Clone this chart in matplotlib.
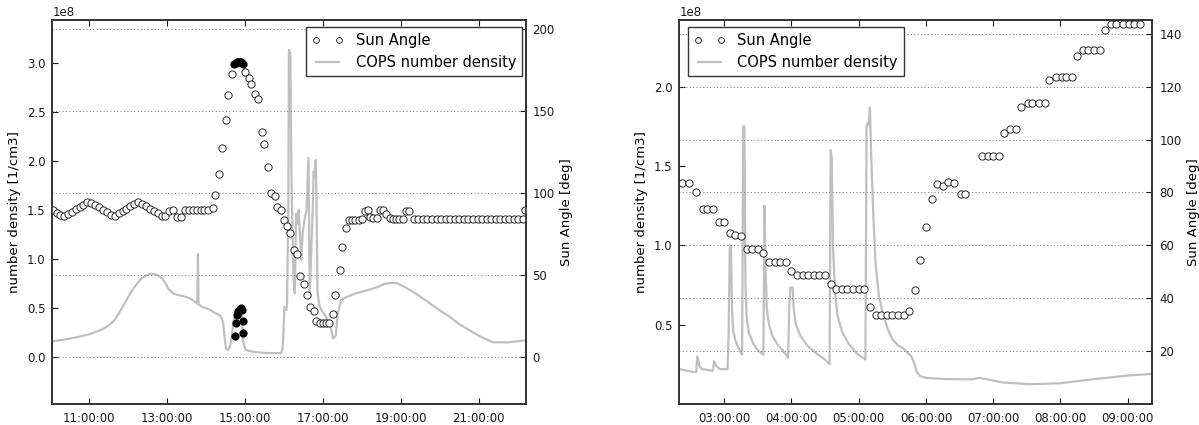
import datetime as dt
import numpy as np
import matplotlib
matplotlib.use("Agg")
import matplotlib.pyplot as plt
import matplotlib.dates as mdates
from matplotlib.ticker import FixedLocator

# --- left panel: sun angle (open circles) ---
left_sun_t = ["10:05", "10:11", "10:16", "10:22", "10:28", "10:34", "10:40", "10:46", "10:52", "10:58",
              "11:04", "11:10", "11:16", "11:22", "11:28", "11:34", "11:40", "11:46", "11:52", "11:58",
              "12:04", "12:10", "12:16", "12:22", "12:28", "12:34", "12:40", "12:46", "12:52", "12:58",
              "13:04", "13:10", "13:16", "13:22", "13:28", "13:34", "13:40", "13:46", "13:52", "13:58",
              "14:04", "14:11", "14:15", "14:20", "14:25", "14:31", "14:35", "14:40",
              "15:00", "15:06", "15:10", "15:16", "15:20", "15:26", "15:30", "15:36", "15:40", "15:46",
              "15:50", "15:55", "16:01", "16:05", "16:10", "16:15", "16:20", "16:25", "16:31", "16:35",
              "16:41", "16:46", "16:50", "16:55", "17:00", "17:05", "17:10", "17:16", "17:19", "17:26",
              "17:30", "17:36", "17:40", "17:45", "17:50", "17:55", "18:00", "18:05", "18:09", "18:13",
              "18:18", "18:23", "18:28", "18:33", "18:38", "18:43", "18:48", "18:53", "18:58", "19:03",
              "19:08", "19:13", "19:20", "19:27", "19:34", "19:41", "19:48", "19:55", "20:02", "20:09",
              "20:16", "20:23", "20:30", "20:37", "20:44", "20:51", "20:58", "21:05", "21:12", "21:19",
              "21:26", "21:33", "21:40", "21:47", "21:54", "22:01", "22:08", "22:11"]
left_sun_deg = [89.7, 88.0, 86.8, 86.0, 87.4, 88.8, 90.2, 91.6, 93.0, 94.6,
                94.0, 92.7, 91.3, 89.8, 88.3, 86.8, 86.2, 87.6, 89.0, 90.4,
                91.9, 93.4, 94.8, 93.6, 92.1, 90.6, 89.1, 87.6, 86.2, 86.0,
                89.0, 89.5, 85.4, 85.4, 90.0, 90.0, 90.0, 90.0, 90.0, 90.0,
                90.0, 91.0, 98.8, 111.8, 127.5, 144.4, 159.9, 172.5,
                173.9, 170.3, 166.6, 160.5, 157.2, 137.1, 130.1, 115.9, 100.2, 98.2,
                91.4, 89.8, 83.7, 79.8, 75.4, 65.6, 63.1, 49.7, 44.8, 37.9,
                30.5, 28.3, 22.2, 21.0, 21.0, 21.0, 21.0, 26.5, 38.1, 53.0,
                67.2, 78.6, 83.9, 83.9, 83.9, 83.9, 84.5, 89.4, 89.8, 85.5,
                85.0, 85.0, 89.5, 89.8, 87.0, 85.0, 84.5, 84.0, 84.0, 84.0,
                89.2, 89.2, 84.0, 84.0, 84.0, 84.0, 84.0, 84.0, 84.0, 84.0,
                84.0, 84.0, 84.0, 84.0, 84.0, 84.0, 84.0, 84.0, 84.0, 84.0,
                84.0, 84.0, 84.0, 84.0, 84.0, 84.0, 84.0, 89.5]

# densely overlapping samples that render as solid black dots
left_dense_t = ["14:44", "14:46", "14:48", "14:50", "14:52", "14:54", "14:56", "14:58",
                "14:45", "14:46", "14:48", "14:50", "14:52", "14:54", "14:56", "14:58", "14:58"]
left_dense_deg = [178.8, 179.6, 180.0, 180.2, 180.2, 180.0, 179.6, 178.8,
                  12.6, 20.8, 25.9, 27.9, 29.3, 29.7, 28.5, 21.8, 14.7]

# --- left panel: COPS number density (1e8 /cm3) ---
left_cops_t = ["10:04", "10:20", "10:41", "11:00", "11:17", "11:26", "11:34", "11:40", "11:46", "11:52",
               "11:58", "12:04", "12:10", "12:16", "12:21", "12:28", "12:36", "12:42", "12:48", "12:53",
               "12:57", "13:03", "13:11", "13:18", "13:26", "13:35", "13:44", "13:47", "13:48", "13:49",
               "13:55", "14:04", "14:14", "14:22", "14:25", "14:27", "14:29", "14:31", "14:34", "14:37",
               "14:39", "14:41", "14:43", "14:47", "14:55", "14:57", "15:00", "15:02", "15:08", "15:13",
               "15:33", "15:56", "15:58", "15:59", "16:01", "16:04", "16:05", "16:07", "16:08", "16:10",
               "16:12", "16:15", "16:17", "16:19", "16:22", "16:23", "16:25", "16:27", "16:29", "16:32",
               "16:35", "16:38", "16:40", "16:44", "16:46", "16:47", "16:49", "16:50", "16:52", "16:55",
               "16:58", "17:05", "17:10", "17:13", "17:16", "17:18", "17:20", "17:23", "17:28", "17:36",
               "17:51", "18:08", "18:23", "18:33", "18:38", "18:47", "18:55", "19:07", "19:20", "19:31",
               "19:45", "20:00", "20:15", "20:29", "20:45", "20:59", "21:10", "21:22", "21:46", "22:12"]
left_cops = [0.16, 0.175, 0.20, 0.23, 0.27, 0.30, 0.34, 0.38, 0.44, 0.51,
             0.58, 0.65, 0.71, 0.76, 0.80, 0.83, 0.85, 0.845, 0.826, 0.80,
             0.765, 0.69, 0.645, 0.63, 0.62, 0.60, 0.56, 0.543, 1.05, 0.535,
             0.51, 0.49, 0.45, 0.425, 0.39, 0.34, 0.20, 0.09, 0.07, 0.10,
             0.17, 0.26, 0.38, 0.48, 0.48, 0.17, 0.10, 0.07, 0.06, 0.054,
             0.04, 0.04, 0.08, 0.17, 0.51, 0.48, 0.53, 1.50, 3.13, 3.10,
             1.74, 0.80, 0.65, 1.46, 1.36, 1.50, 1.23, 0.99, 1.26, 1.40,
             1.50, 2.03, 0.65, 1.40, 1.89, 1.84, 2.01, 1.74, 0.65, 0.52,
             0.48, 0.41, 0.33, 0.275, 0.19, 0.20, 0.22, 0.445, 0.58, 0.61,
             0.65, 0.68, 0.71, 0.74, 0.75, 0.755, 0.75, 0.71, 0.66, 0.61,
             0.545, 0.476, 0.41, 0.34, 0.275, 0.22, 0.185, 0.15, 0.15, 0.17]

# --- right panel: sun angle ---
right_sun_t = ["02:22", "02:29", "02:35", "02:41", "02:45", "02:50", "02:55", "03:00", "03:05", "03:10",
               "03:15", "03:20", "03:25", "03:30", "03:35", "03:40", "03:45", "03:50", "03:55", "04:00",
               "04:05", "04:10", "04:15", "04:20", "04:25", "04:30", "04:35", "04:40", "04:45", "04:50",
               "04:55", "05:00", "05:05", "05:10", "05:15", "05:20", "05:25", "05:30", "05:35", "05:40",
               "05:45", "05:50", "05:55", "06:00", "06:05", "06:10", "06:15", "06:20", "06:25", "06:31",
               "06:35", "06:50", "06:55", "07:00", "07:05", "07:10", "07:15", "07:20", "07:25", "07:31",
               "07:35", "07:41", "07:46", "07:50", "07:56", "08:01", "08:05", "08:10", "08:15", "08:20",
               "08:25", "08:30", "08:35", "08:40", "08:45", "08:50", "08:56", "09:01", "09:06", "09:11"]
right_sun_deg = [83.6, 83.6, 80.0, 73.9, 73.9, 73.9, 68.75, 68.75, 64.6, 64.0,
                 63.7, 58.6, 58.6, 58.6, 57.1, 53.6, 53.6, 53.6, 53.6, 50.2,
                 48.6, 48.6, 48.6, 48.6, 48.6, 48.6, 45.3, 43.6, 43.6, 43.6,
                 43.6, 43.6, 43.6, 36.7, 33.6, 33.6, 33.6, 33.6, 33.6, 33.6,
                 35.3, 43.0, 54.4, 66.9, 77.5, 83.3, 82.4, 84.0, 83.4, 79.4,
                 79.4, 93.8, 93.8, 93.8, 93.8, 102.3, 103.9, 103.9, 112.3, 113.9,
                 113.9, 113.9, 113.9, 122.4, 123.8, 123.8, 123.8, 123.8, 131.5, 133.8,
                 133.8, 133.8, 133.8, 141.4, 143.6, 143.6, 143.6, 143.6, 143.6, 143.6]

# --- right panel: COPS number density (1e8 /cm3) ---
right_cops_t = ["02:20", "02:30", "02:35", "02:36", "02:38", "02:40", "02:50", "02:51", "02:53", "02:56",
                "03:03", "03:04", "03:05", "03:06", "03:07", "03:08", "03:10", "03:13", "03:16", "03:17",
                "03:18", "03:19", "03:20", "03:22", "03:26", "03:30", "03:35", "03:36", "03:37", "03:38",
                "03:40", "03:43", "03:47", "03:52", "03:57", "03:58", "03:59", "04:01", "04:02", "04:04",
                "04:08", "04:14", "04:22", "04:30", "04:34", "04:35", "04:36", "04:37", "04:39", "04:41",
                "04:45", "04:51", "04:58", "05:06", "05:07", "05:08", "05:09", "05:10", "05:11", "05:13",
                "05:15", "05:18", "05:22", "05:26", "05:30", "05:35", "05:40", "05:44", "05:47", "05:50",
                "05:52", "05:55", "06:00", "06:17", "06:40", "06:48", "06:55", "07:08", "07:32", "07:59",
                "08:34", "09:01", "09:23"]
right_cops = [0.22, 0.205, 0.20, 0.30, 0.24, 0.22, 0.21, 0.27, 0.24, 0.22,
              0.22, 0.45, 1.00, 1.00, 0.60, 0.46, 0.40, 0.35, 0.31, 1.75,
              1.75, 0.75, 0.55, 0.45, 0.38, 0.34, 0.31, 1.25, 0.85, 0.60,
              0.50, 0.43, 0.38, 0.34, 0.29, 0.60, 0.735, 0.735, 0.60, 0.50,
              0.43, 0.37, 0.32, 0.28, 0.25, 1.60, 1.55, 1.00, 0.70, 0.56,
              0.46, 0.38, 0.32, 0.28, 1.75, 1.77, 1.76, 1.87, 1.60, 1.20,
              0.89, 0.68, 0.56, 0.47, 0.41, 0.37, 0.35, 0.32, 0.30, 0.25,
              0.20, 0.175, 0.165, 0.157, 0.155, 0.165, 0.155, 0.136, 0.125, 0.13,
              0.16, 0.18, 0.19]


def to_time(labels):
    base = dt.datetime(2000, 1, 1)
    out = []
    for s in labels:
        h, m = s.split(":")
        out.append(base + dt.timedelta(hours=int(h), minutes=int(m)))
    return out


plt.rcParams['font.family'] = 'DejaVu Sans'
fig = plt.figure(figsize=(11.99, 4.25), dpi=100)
fig.patch.set_facecolor('white')

panels = [
    dict(rect=[0.0436, 0.0494, 0.3948, 0.9035],
         sun_t=left_sun_t, sun=left_sun_deg, cops_t=left_cops_t, cops=left_cops,
         xlim=("10:04", "22:12"), hours=2, ylim=(-0.479e8, 3.435e8), y2lim=(-28.7, 205.7),
         yticks=np.arange(0, 3.01, 0.5) * 1e8, y2ticks=[0, 50, 100, 150, 200],
         leg_loc='upper right', leg_anchor=(0.992, 0.982)),
    dict(rect=[0.5666, 0.0494, 0.3945, 0.9035],
         sun_t=right_sun_t, sun=right_sun_deg, cops_t=right_cops_t, cops=right_cops,
         xlim=("02:20", "09:22"), hours=1, ylim=(0, 2.42e8), y2lim=(0, 145.2),
         yticks=np.array([0.5, 1.0, 1.5, 2.0]) * 1e8, y2ticks=[20, 40, 60, 80, 100, 120, 140],
         leg_loc='upper left', leg_anchor=(0.018, 0.982)),
]

for i, p in enumerate(panels):
    ax = fig.add_axes(p['rect'])
    ax2 = ax.twinx()

    line, = ax.plot(to_time(p['cops_t']), np.array(p['cops']) * 1e8, color='0.75', lw=1.6,
                    label='COPS number density')
    circ, = ax2.plot(to_time(p['sun_t']), p['sun'], 'o', mfc='white', mec='0.15', ms=5.2, mew=0.7,
                     label='Sun Angle')
    if i == 0:
        ax2.plot(to_time(left_dense_t), left_dense_deg, 'o', color='black', ms=5.2, mew=0.7)

    ax.set_xlim(to_time(p['xlim']))
    ax.set_ylim(p['ylim'])
    ax2.set_ylim(p['y2lim'])
    ax.yaxis.set_major_locator(FixedLocator(p['yticks']))
    ax2.yaxis.set_major_locator(FixedLocator(p['y2ticks']))
    ax.xaxis.set_major_locator(mdates.HourLocator(interval=p['hours']))
    ax.xaxis.set_major_formatter(mdates.DateFormatter('%H:%M:%S'))

    ax2.yaxis.grid(True, linestyle=(0, (1, 2.5)), color='0.45', lw=0.7)

    for a in (ax, ax2):
        a.tick_params(direction='in', length=4, width=0.8, labelsize=8.5, colors='0.1', pad=5)
        for s in a.spines.values():
            s.set_linewidth(1.2)
            s.set_color('0.2')
    ax.tick_params(axis='x', top=True, pad=6)
    ax.yaxis.get_offset_text().set_fontsize(8.5)

    ax.set_ylabel('number density [1/cm3]', fontsize=9.5)
    ax2.set_ylabel('Sun Angle [deg]', fontsize=9.5)

    leg = ax2.legend([circ, line], ['Sun Angle', 'COPS number density'], loc=p['leg_loc'],
                     bbox_to_anchor=p['leg_anchor'], numpoints=2, fancybox=False, fontsize=10.5,
                     framealpha=1, edgecolor='0.2', borderaxespad=0.0, handlelength=2.2,
                     markerscale=0.8)
    leg.get_frame().set_linewidth(1.0)

fig.savefig('out.png', dpi=100, facecolor='white')
